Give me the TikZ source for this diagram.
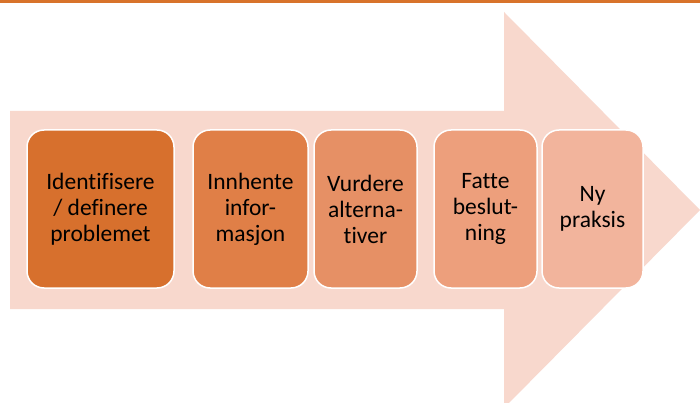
\documentclass[tikz,border=0pt]{standalone}
\usepackage{fontspec}
\setmainfont{Carlito}[Ligatures={NoCommon}]
\definecolor{topline}{HTML}{D8732A}
\definecolor{arrowfill}{HTML}{F8D8CD}
\definecolor{cA}{HTML}{D7702D}
\definecolor{cB}{HTML}{E07F47}
\definecolor{cC}{HTML}{E69065}
\definecolor{cD}{HTML}{ED9F7C}
\definecolor{cE}{HTML}{F2B49C}
\begin{document}
\begin{tikzpicture}[x=1pt,y=-1pt,
  stepbox/.style={draw=white,line width=1.5pt,rounded corners=17pt,
    minimum height=158pt,inner sep=0pt,align=center,
    font=\fontsize{23.5}{26}\selectfont,text=black}]
\useasboundingbox (0,0) rectangle (700,403);
\fill[white] (0,0) rectangle (700,403);
\fill[topline] (0,0) rectangle (700,3);
\fill[arrowfill] (10,111) -- (504,111) -- (504,12) -- (700,210) -- (504,408) -- (504,309) -- (10,309) -- cycle;
\node[stepbox,fill=cA,minimum width=147pt] (s1) at (100.5,209) {Identifisere\\/ definere\\problemet};
\node[stepbox,fill=cB,minimum width=115pt] (s2) at (250.5,209) {Innhente\\infor-\\masjon};
\node[stepbox,fill=cC,minimum width=103pt] (s3) at (365.5,209) {Vurdere\\alterna-\\tiver};
\node[stepbox,fill=cD,minimum width=103pt] (s4) at (485.5,209) {Fatte\\beslut-\\ning};
\node[stepbox,fill=cE,minimum width=101pt] (s5) at (592.5,209) {Ny\\praksis};
\end{tikzpicture}
\end{document}
